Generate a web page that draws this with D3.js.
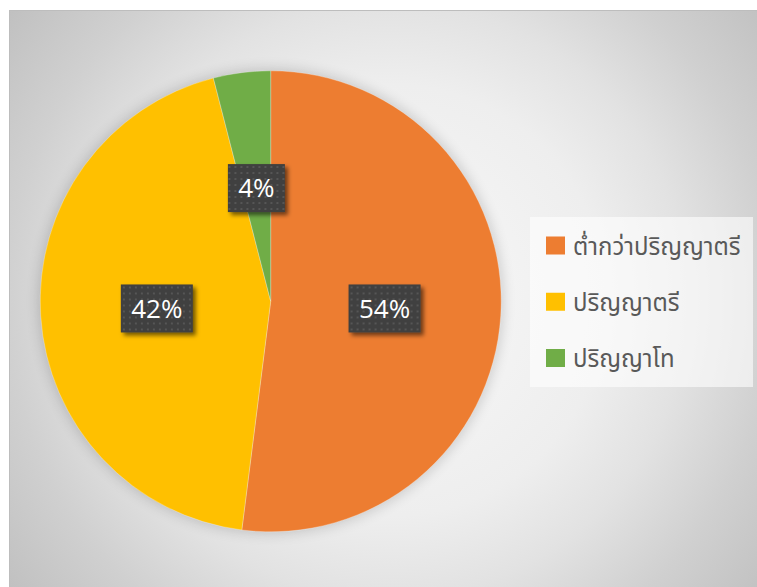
<!DOCTYPE html>
<html>
<head>
<meta charset="utf-8">
<script src="https://cdn.jsdelivr.net/npm/d3@7"></script>
<style>
  html, body { margin: 0; padding: 0; background: #fff; }
  svg { display: block; }
</style>
</head>
<body>
<div id="chart"></div>
<script>
// Data
const categories = ["ต่ำกว่าปริญญาตรี", "ปริญญาตรี", "ปริญญาโท"];
const shares = [52, 44, 4];              // slice sizes as drawn
const labels = ["54%", "42%", "4%"];     // label texts as printed
const colorList = ["#ED7D31", "#FFC000", "#70AD47"];

const W = 757, H = 587;
const cx = 270.7, cy = 301.3, radius = 230.5;

const color = d3.scaleOrdinal().domain(categories).range(colorList);

const svg = d3.select("#chart")
  .append("svg")
    .attr("width", W)
    .attr("height", H);

const defs = svg.append("defs");

// chart area background: radial gradient
const grad = defs.append("radialGradient")
  .attr("id", "bg")
  .attr("gradientUnits", "userSpaceOnUse")
  .attr("cx", 390).attr("cy", 300).attr("r", 480);
[[0, "#f9f9f9"], [0.45, "#eeeeee"], [0.62, "#e2e2e2"], [0.8, "#d0d0d0"], [1, "#c0c0c0"]]
  .forEach(([o, c]) => grad.append("stop").attr("offset", o).attr("stop-color", c));

// soft shadow round the pie
const halo = defs.append("filter")
  .attr("id", "halo")
  .attr("x", "-20%").attr("y", "-20%").attr("width", "140%").attr("height", "140%");
halo.append("feGaussianBlur").attr("stdDeviation", 7);

// label box shadow
const shadow = defs.append("filter")
  .attr("id", "boxShadow")
  .attr("x", "-30%").attr("y", "-30%").attr("width", "160%").attr("height", "160%");
shadow.append("feDropShadow")
  .attr("dx", 3).attr("dy", 3)
  .attr("stdDeviation", 2)
  .attr("flood-color", "#000")
  .attr("flood-opacity", 0.55);

// dotted dark pattern for labels
const pat = defs.append("pattern")
  .attr("id", "dots")
  .attr("patternUnits", "userSpaceOnUse")
  .attr("width", 6).attr("height", 6);
pat.append("rect").attr("width", 6).attr("height", 6).attr("fill", "#3f3f3f");
pat.append("rect").attr("x", 2).attr("y", 2).attr("width", 2).attr("height", 2).attr("fill", "#575757");

svg.append("rect")
  .attr("x", 9.5).attr("y", 10.5)
  .attr("width", W + 10).attr("height", H + 10)
  .attr("fill", "url(#bg)")
  .attr("stroke", "#bdbdbd")
  .attr("stroke-width", 1);

//Pie
const pie = d3.pie().sort(null).value(d => d.value);
const data = categories.map((c, i) => ({ name: c, value: shares[i], label: labels[i] }));
const arcs = pie(data);

const arc = d3.arc().innerRadius(0).outerRadius(radius);
const labelArc = d3.arc().innerRadius(radius * 0.495).outerRadius(radius * 0.495);

const g = svg.append("g").attr("transform", `translate(${cx},${cy})`);

g.append("circle")
  .attr("r", radius + 1)
  .attr("fill", "#000")
  .attr("opacity", 0.18)
  .attr("filter", "url(#halo)");

g.selectAll("path.slice")
  .data(arcs)
  .enter()
  .append("path")
    .attr("class", "slice")
    .attr("d", arc)
    .attr("fill", d => color(d.data.name))
    .attr("stroke", "rgba(255,255,255,0.35)")
    .attr("stroke-width", 0.8);

//Labels
const lab = g.selectAll(".lab")
  .data(arcs)
  .enter()
  .append("g")
    .attr("class", "lab")
    .attr("transform", d => `translate(${labelArc.centroid(d)})`);

lab.append("rect")
  .attr("fill", "url(#dots)")
  .attr("filter", "url(#boxShadow)");

const txt = lab.append("text")
  .attr("text-anchor", "middle")
  .attr("dy", "0.36em")
  .style("font-family", "'Segoe UI', 'Open Sans', 'Noto Sans', sans-serif")
  .style("font-size", "26px")
  .style("fill", "#ffffff")
  .text(d => d.data.label);

txt.each(function(d) {
  const w = this.getComputedTextLength();
  const bw = Math.round(w + 21), bh = 48;
  d3.select(this.parentNode).select("rect")
    .attr("x", -bw / 2).attr("y", -bh / 2)
    .attr("width", bw).attr("height", bh);
});

//Legend
const legend = svg.append("g");
legend.append("rect")
  .attr("x", 530).attr("y", 217)
  .attr("width", 223).attr("height", 170)
  .attr("fill", "#ffffff")
  .attr("opacity", 0.6);

const ly = d3.scalePoint().domain(categories).range([245.5, 358]);

const items = legend.selectAll(".legend-item")
  .data(categories)
  .enter()
  .append("g")
    .attr("class", "legend-item")
    .attr("transform", d => `translate(546, ${ly(d)})`);

items.append("rect")
  .attr("y", -9)
  .attr("width", 19)
  .attr("height", 18)
  .attr("fill", d => color(d));

items.append("text")
  .attr("x", 27)
  .attr("dy", "0.38em")
  .style("font-family", "'Leelawadee UI', 'Noto Sans Thai', 'Noto Sans Thai UI', 'Noto Sans', sans-serif")
  .style("font-size", "24px")
  .style("fill", "#595959")
  .text(d => d);
</script>
</body>
</html>
